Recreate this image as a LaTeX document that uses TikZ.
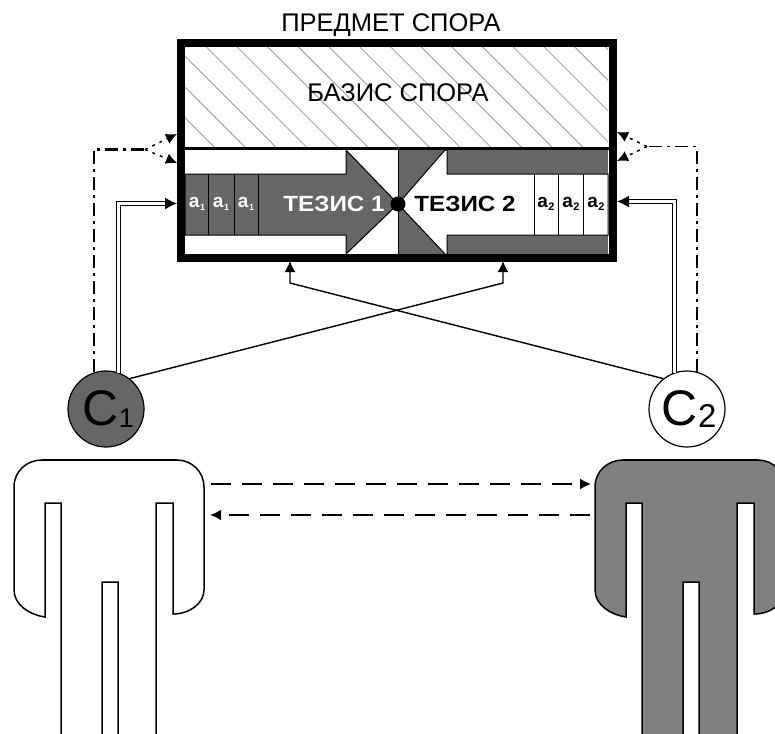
\documentclass[tikz,border=0pt]{standalone}
\usepackage{fontspec}
\setmainfont{Liberation Sans}
\newfontfamily\widebold[FakeStretch=1.1]{Liberation Sans Bold}
\usepackage{xcolor}
\usetikzlibrary{arrows.meta, positioning}
\definecolor{darkfill}{HTML}{666666}
\definecolor{bodyfill}{HTML}{808080}
\definecolor{hatchgray}{HTML}{999999}
\newcommand{\lowidx}[3]{#1\kern0.5pt\raisebox{#3}{\fontsize{#2}{#2}\selectfont 1}}
\newcommand{\lowidxb}[3]{#1\kern0.5pt\raisebox{#3}{\fontsize{#2}{#2}\selectfont 2}}
\tikzset{
    title/.style={font=\fontsize{25.5}{25.5}\selectfont, inner sep=0pt},
    tezis/.style={font=\fontsize{22}{22}\selectfont\widebold, inner sep=0pt},
    cell/.style={font=\fontsize{19}{19}\selectfont\bfseries, inner sep=0pt},
    head/.style={circle, draw, line width=1.2pt, minimum size=76pt, inner sep=0pt, font=\fontsize{50}{50}\selectfont},
    tip/.style={-{Latex[length=11pt,width=11pt]}},
    thinarrow/.style={tip, line width=1.4pt},
    dbl/.style={-{Latex[length=12pt,width=12pt]}, line width=1.3pt, double, double distance=3.2pt},
    fork/.style={tip, dash pattern=on 3pt off 5pt, line width=1.4pt}
}
\begin{document}
\begin{tikzpicture}[x=1pt,y=-1pt]
    \useasboundingbox (0,0) rectangle (775,733);

    \begin{scope}
        \clip (185,46) rectangle (608,147);
        \foreach \k in {-4,...,15}
            \draw[hatchgray, line width=0.8pt] ({144+\k*30.7},46) -- ({144+\k*30.7+110},156);
    \end{scope}

    \fill[white] (185,150) rectangle (398,254);
    \draw[line width=1pt, fill=darkfill] (185,174) -- (346,174) -- (346,150) -- (398,204) -- (346,254) -- (346,235) -- (185,235) -- cycle;
    \fill[darkfill] (398,150) rectangle (608,254);
    \draw[line width=1pt, fill=white] (398,204) -- (445,150) -- (447,150) -- (447,174) -- (608,174) -- (608,235) -- (447,235) -- (447,254) -- (445,254) -- cycle;
    \draw[line width=1pt] (398,150) -- (398,254);

    \foreach \x in {208,234,258,534,558,583}
        \draw[line width=1pt] (\x,174) -- (\x,235);

    \draw[line width=3pt] (181,148.5) -- (613,148.5);
    \draw[line width=8pt] (181,43) rectangle (613,258);

    \node[title] (predmet) at (391,25) {ПРЕДМЕТ СПОРА};
    \node[title] (bazis) at (398,93) {БАЗИС СПОРА};
    \node[tezis, text=white] (tezisA) at (334,204) {ТЕЗИС 1};
    \node[tezis] (tezisB) at (465,204) {ТЕЗИС 2};

    \foreach \x in {197,221,246}
        \node[cell, text=white] (aA\x) at (\x,204) {\lowidx{a}{9}{-2.5pt}};
    \foreach \x in {546,571,596}
        \node[cell] (aB\x) at (\x,204) {\lowidxb{a}{11}{-2.5pt}};

    \fill (398,204) circle (7.5);

    \node[head, fill=darkfill] (headA) at (106,409) {\kern4pt\lowidx{C}{27}{-2pt}};
    \node[head, fill=white] (headB) at (687,409) {\kern4pt\lowidxb{C}{33}{-2pt}};

    \begin{scope}
        \clip (0,0) rectangle (775,733);
        \foreach \dx/\bodycol in {0/white,581/bodyfill} {
            \begin{scope}[xshift=\dx pt]
                \draw[fill=\bodycol, line width=1.5pt] (14,487) .. controls (14,471) and (27,460) .. (42,460) -- (177,460) .. controls (192,460) and (204,472) .. (204,487) -- (204,590) .. controls (204,603) and (190,614) .. (173,614) -- (173,503) -- (156,503) -- (156,740) -- (118,740) -- (118,582) -- (102,582) -- (102,740) -- (61,740) -- (61,503) -- (45,503) -- (45,617) .. controls (30,615) and (14,605) .. (14,590) -- cycle;
                \draw[line width=2.5pt] (42,460) -- (177,460);
            \end{scope}
        }
    \end{scope}

    \coordinate (forkA) at (145,149.5);
    \coordinate (forkB) at (647,146.5);
    \coordinate (inA) at (177,203.5);
    \coordinate (inB) at (617,201.5);
    \coordinate (bendA) at (503,283);
    \coordinate (bendB) at (290,283);
    \coordinate (baseA) at (503,261);
    \coordinate (baseB) at (290,261);
    \coordinate (upA) at (177,134);
    \coordinate (downA) at (177,163);
    \coordinate (upB) at (617,132);
    \coordinate (downB) at (617,161);
    \coordinate (armAtop) at (211,484);
    \coordinate (armBtop) at (591,484);
    \coordinate (armAlow) at (210,515);
    \coordinate (armBlow) at (590,515);

    \draw[thinarrow] (headA.52) -- (bendA) -- (baseA);
    \draw[thinarrow] (headB.128) -- (bendB) -- (baseB);

    \draw[dbl] (headA.71) |- (inA);
    \draw[dbl] (headB.109) |- (inB);

    \draw[line width=2.5pt, dash pattern=on 13pt off 5pt on 3pt off 5pt] (headA.108) |- (forkA);
    \draw[line width=1.5pt, dash pattern=on 13pt off 5pt on 3pt off 5pt] (headB.75) |- (forkB);
    \draw[fork] (forkA) -- (upA);
    \draw[fork] (forkA) -- (downA);
    \draw[fork] (forkB) -- (upB);
    \draw[fork] (forkB) -- (downB);

    \draw[tip, line width=1.4pt, dash pattern=on 20pt off 11pt] (armAtop) -- (armBtop);
    \draw[tip, line width=2.6pt, dash pattern=on 20pt off 11pt] (armBlow) -- (armAlow);
\end{tikzpicture}
\end{document}
